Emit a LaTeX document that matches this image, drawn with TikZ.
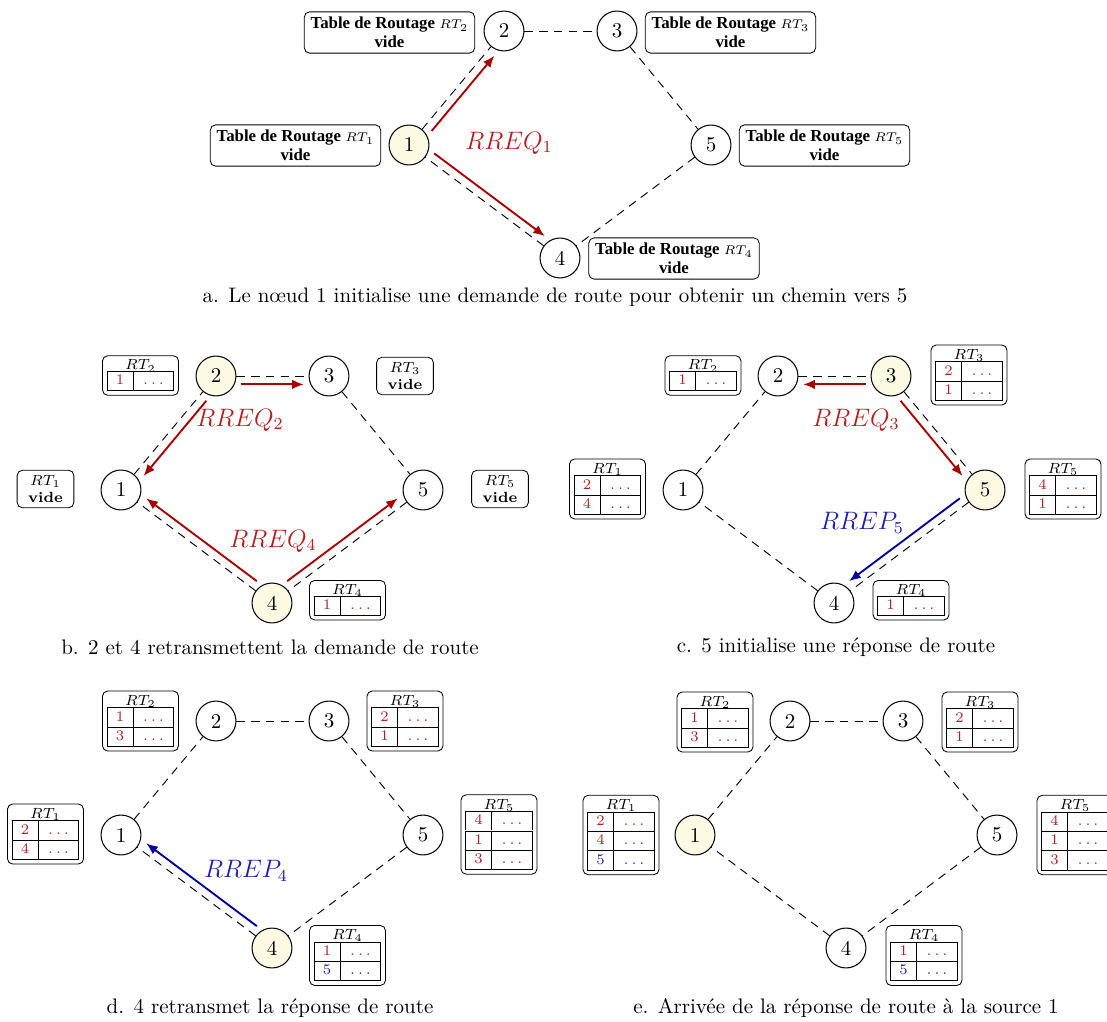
\documentclass[tikz,border=0pt]{standalone}
\usepackage{fontspec}
\newfontfamily\boxfont{Liberation Serif}
\usepackage{array}
\usetikzlibrary{calc,arrows.meta}
\definecolor{arrred}{RGB}{170,0,0}
\definecolor{txtred}{RGB}{180,30,30}
\definecolor{arrblue}{RGB}{0,0,170}
\definecolor{txtblue}{RGB}{30,30,180}
\definecolor{nodefill}{RGB}{253,250,228}
\newcommand{\rowR}[1]{\textcolor{txtred}{#1} & \textcolor{txtred}{$\ldots$}\\\hline}
\newcommand{\rowB}[1]{\textcolor{txtblue}{#1} & \textcolor{txtblue}{$\ldots$}\\\hline}
\newcommand{\rtab}[2]{$RT_{#1}$\\[-1pt]\setlength{\tabcolsep}{3pt}\renewcommand{\arraystretch}{1.1}\begin{tabular}{|wc{6pt}|wc{13pt}|}\hline #2\end{tabular}}
\newcommand{\offarrow}[4]{%
  \path ($(#2)!4pt!#4:(#3)$) coordinate (oa) ($(#3)+(oa)-(#2)$) coordinate (ob);
  \draw[#1] (oa) -- (ob);}
\newcommand{\hexa}[6]{%
  \node[#2] (#1n1) at (121,490) {1};
  \node[#3] (#1n2) at (216,376) {2};
  \node[#4] (#1n3) at (329,376) {3};
  \node[#5] (#1n4) at (272,603) {4};
  \node[#6] (#1n5) at (423,490) {5};
  \draw[lnk] (#1n1) -- (#1n2);
  \draw[lnk] (#1n2) -- (#1n3);
  \draw[lnk] (#1n3) -- (#1n5);
  \draw[lnk] (#1n5) -- (#1n4);
  \draw[lnk] (#1n4) -- (#1n1);}
\tikzset{
  nd/.style={circle,draw,line width=0.5pt,minimum size=19pt,inner sep=0pt},
  act/.style={nd,fill=nodefill},
  lnk/.style={dash pattern=on 4pt off 3pt,line width=0.45pt},
  req/.style={arrred,line width=0.9pt,-{Latex[length=5.5pt,width=4.5pt]},shorten <=12pt,shorten >=12pt},
  rep/.style={req,arrblue},
  rtbox/.style={draw,rounded corners=2.5pt,inner sep=2pt,align=center,font=\scriptsize},
  vbox/.style={rtbox,minimum width=27pt,inner ysep=2.5pt},
  bigbox/.style={draw,rounded corners=2.5pt,inner xsep=3pt,inner ysep=2.5pt,align=center,font=\boxfont\fontsize{8}{9}\selectfont\bfseries},
  reqlab/.style={text=txtred,font=\large},
  replab/.style={text=txtblue,font=\large},
  capt/.style={font=\normalsize}
}
\begin{document}
\begin{tikzpicture}[x=0.476pt,y=-0.476pt]
\useasboundingbox (0,0) rectangle (1107,1022);
% ---------- panel a
\begin{scope}[shift={(288,-345)}]
  \hexa{a}{act}{nd}{nd}{nd}{nd}
  \offarrow{req}{an1}{an2}{-90}
  \offarrow{req}{an1}{an4}{90}
  \node[reqlab] (la) at (221,488) {$RREQ_1$};
\end{scope}
\node[bigbox] (art2) at (389.5,32.5) {Table de Routage $\scriptstyle RT_2$\\vide};
\node[bigbox] (art1) at (295.5,145.5) {Table de Routage $\scriptstyle RT_1$\\vide};
\node[bigbox] (art3) at (730.5,32.5) {Table de Routage $\scriptstyle RT_3$\\vide};
\node[bigbox] (art5) at (824.5,145.5) {Table de Routage $\scriptstyle RT_5$\\vide};
\node[bigbox] (art4) at (674,258.5) {Table de Routage $\scriptstyle RT_4$\\vide};
\node[capt] (capa) at (555,297) {a. Le nœud $1$ initialise une demande de route pour obtenir un chemin vers $5$};
% ---------- panel b
\begin{scope}
  \hexa{b}{nd}{act}{nd}{act}{nd}
  \offarrow{req}{bn2}{bn3}{-90}
  \offarrow{req}{bn2}{bn1}{90}
  \offarrow{req}{bn4}{bn1}{-90}
  \offarrow{req}{bn4}{bn5}{90}
  \node[reqlab] (lb2) at (240,420) {$RREQ_2$};
  \node[reqlab] (lb4) at (273,541) {$RREQ_4$};
  \node[rtbox] (brt2) at (140.5,375.5) {\rtab{2}{\rowR{1}}};
  \node[vbox] (brt1) at (45.5,489) {$RT_1$\\\textbf{vide}};
  \node[vbox] (brt3) at (405,376) {$RT_3$\\\textbf{vide}};
  \node[vbox] (brt5) at (500,489) {$RT_5$\\\textbf{vide}};
  \node[rtbox,anchor=north] (brt4) at (347.5,580) {\rtab{4}{\rowR{1}}};
\end{scope}
\node[capt] (capb) at (270,647) {b. $2$ et $4$ retransmettent la demande de route};
% ---------- panel c
\begin{scope}[shift={(562,0)}]
  \hexa{c}{nd}{nd}{act}{nd}{act}
  \offarrow{req}{cn3}{cn2}{90}
  \offarrow{req}{cn3}{cn5}{-90}
  \offarrow{rep}{cn5}{cn4}{-90}
  \node[reqlab] (lc3) at (294,420) {$RREQ_3$};
  \node[replab] (lc5) at (300,523) {$RREP_5$};
  \node[rtbox] (crt2) at (141,375.5) {\rtab{2}{\rowR{1}}};
  \node[rtbox] (crt3) at (407,375) {\rtab{3}{\rowR{2}\rowR{1}}};
  \node[rtbox] (crt1) at (45.5,489) {\rtab{1}{\rowR{2}\rowR{4}}};
  \node[rtbox] (crt5) at (501,489) {\rtab{5}{\rowR{4}\rowR{1}}};
  \node[rtbox,anchor=north] (crt4) at (349,580) {\rtab{4}{\rowR{1}}};
\end{scope}
\node[capt] (capc) at (836,647) {c. $5$ initialise une réponse de route};
% ---------- panel d
\begin{scope}[shift={(0,345)}]
  \hexa{d}{nd}{nd}{nd}{act}{nd}
  \offarrow{rep}{dn4}{dn1}{-90}
  \node[replab] (ld4) at (246,526) {$RREP_4$};
  \node[rtbox] (drt2) at (140.5,376) {\rtab{2}{\rowR{1}\rowR{3}}};
  \node[rtbox] (drt3) at (405,376) {\rtab{3}{\rowR{2}\rowR{1}}};
  \node[rtbox] (drt1) at (45.5,489) {\rtab{1}{\rowR{2}\rowR{4}}};
  \node[rtbox] (drt5) at (499,489.5) {\rtab{5}{\rowR{4}\rowR{1}\rowR{3}}};
  \node[rtbox,anchor=north] (drt4) at (347.5,580) {\rtab{4}{\rowR{1}\rowB{5}}};
\end{scope}
\node[capt] (capd) at (270,1008) {d. $4$ retransmet la réponse de route};
% ---------- panel e
\begin{scope}[shift={(574,345)}]
  \hexa{e}{act}{nd}{nd}{nd}{nd}
  \node[rtbox] (ert2) at (141,377) {\rtab{2}{\rowR{1}\rowR{3}}};
  \node[rtbox] (ert3) at (406,377) {\rtab{3}{\rowR{2}\rowR{1}}};
  \node[rtbox] (ert1) at (47,490) {\rtab{1}{\rowR{2}\rowR{4}\rowB{5}}};
  \node[rtbox] (ert5) at (501,490) {\rtab{5}{\rowR{4}\rowR{1}\rowR{3}}};
  \node[rtbox,anchor=north] (ert4) at (350,580) {\rtab{4}{\rowR{1}\rowB{5}}};
\end{scope}
\node[capt] (cape) at (846,1008) {e. Arrivée de la réponse de route à la source $1$};
\end{tikzpicture}
\end{document}
